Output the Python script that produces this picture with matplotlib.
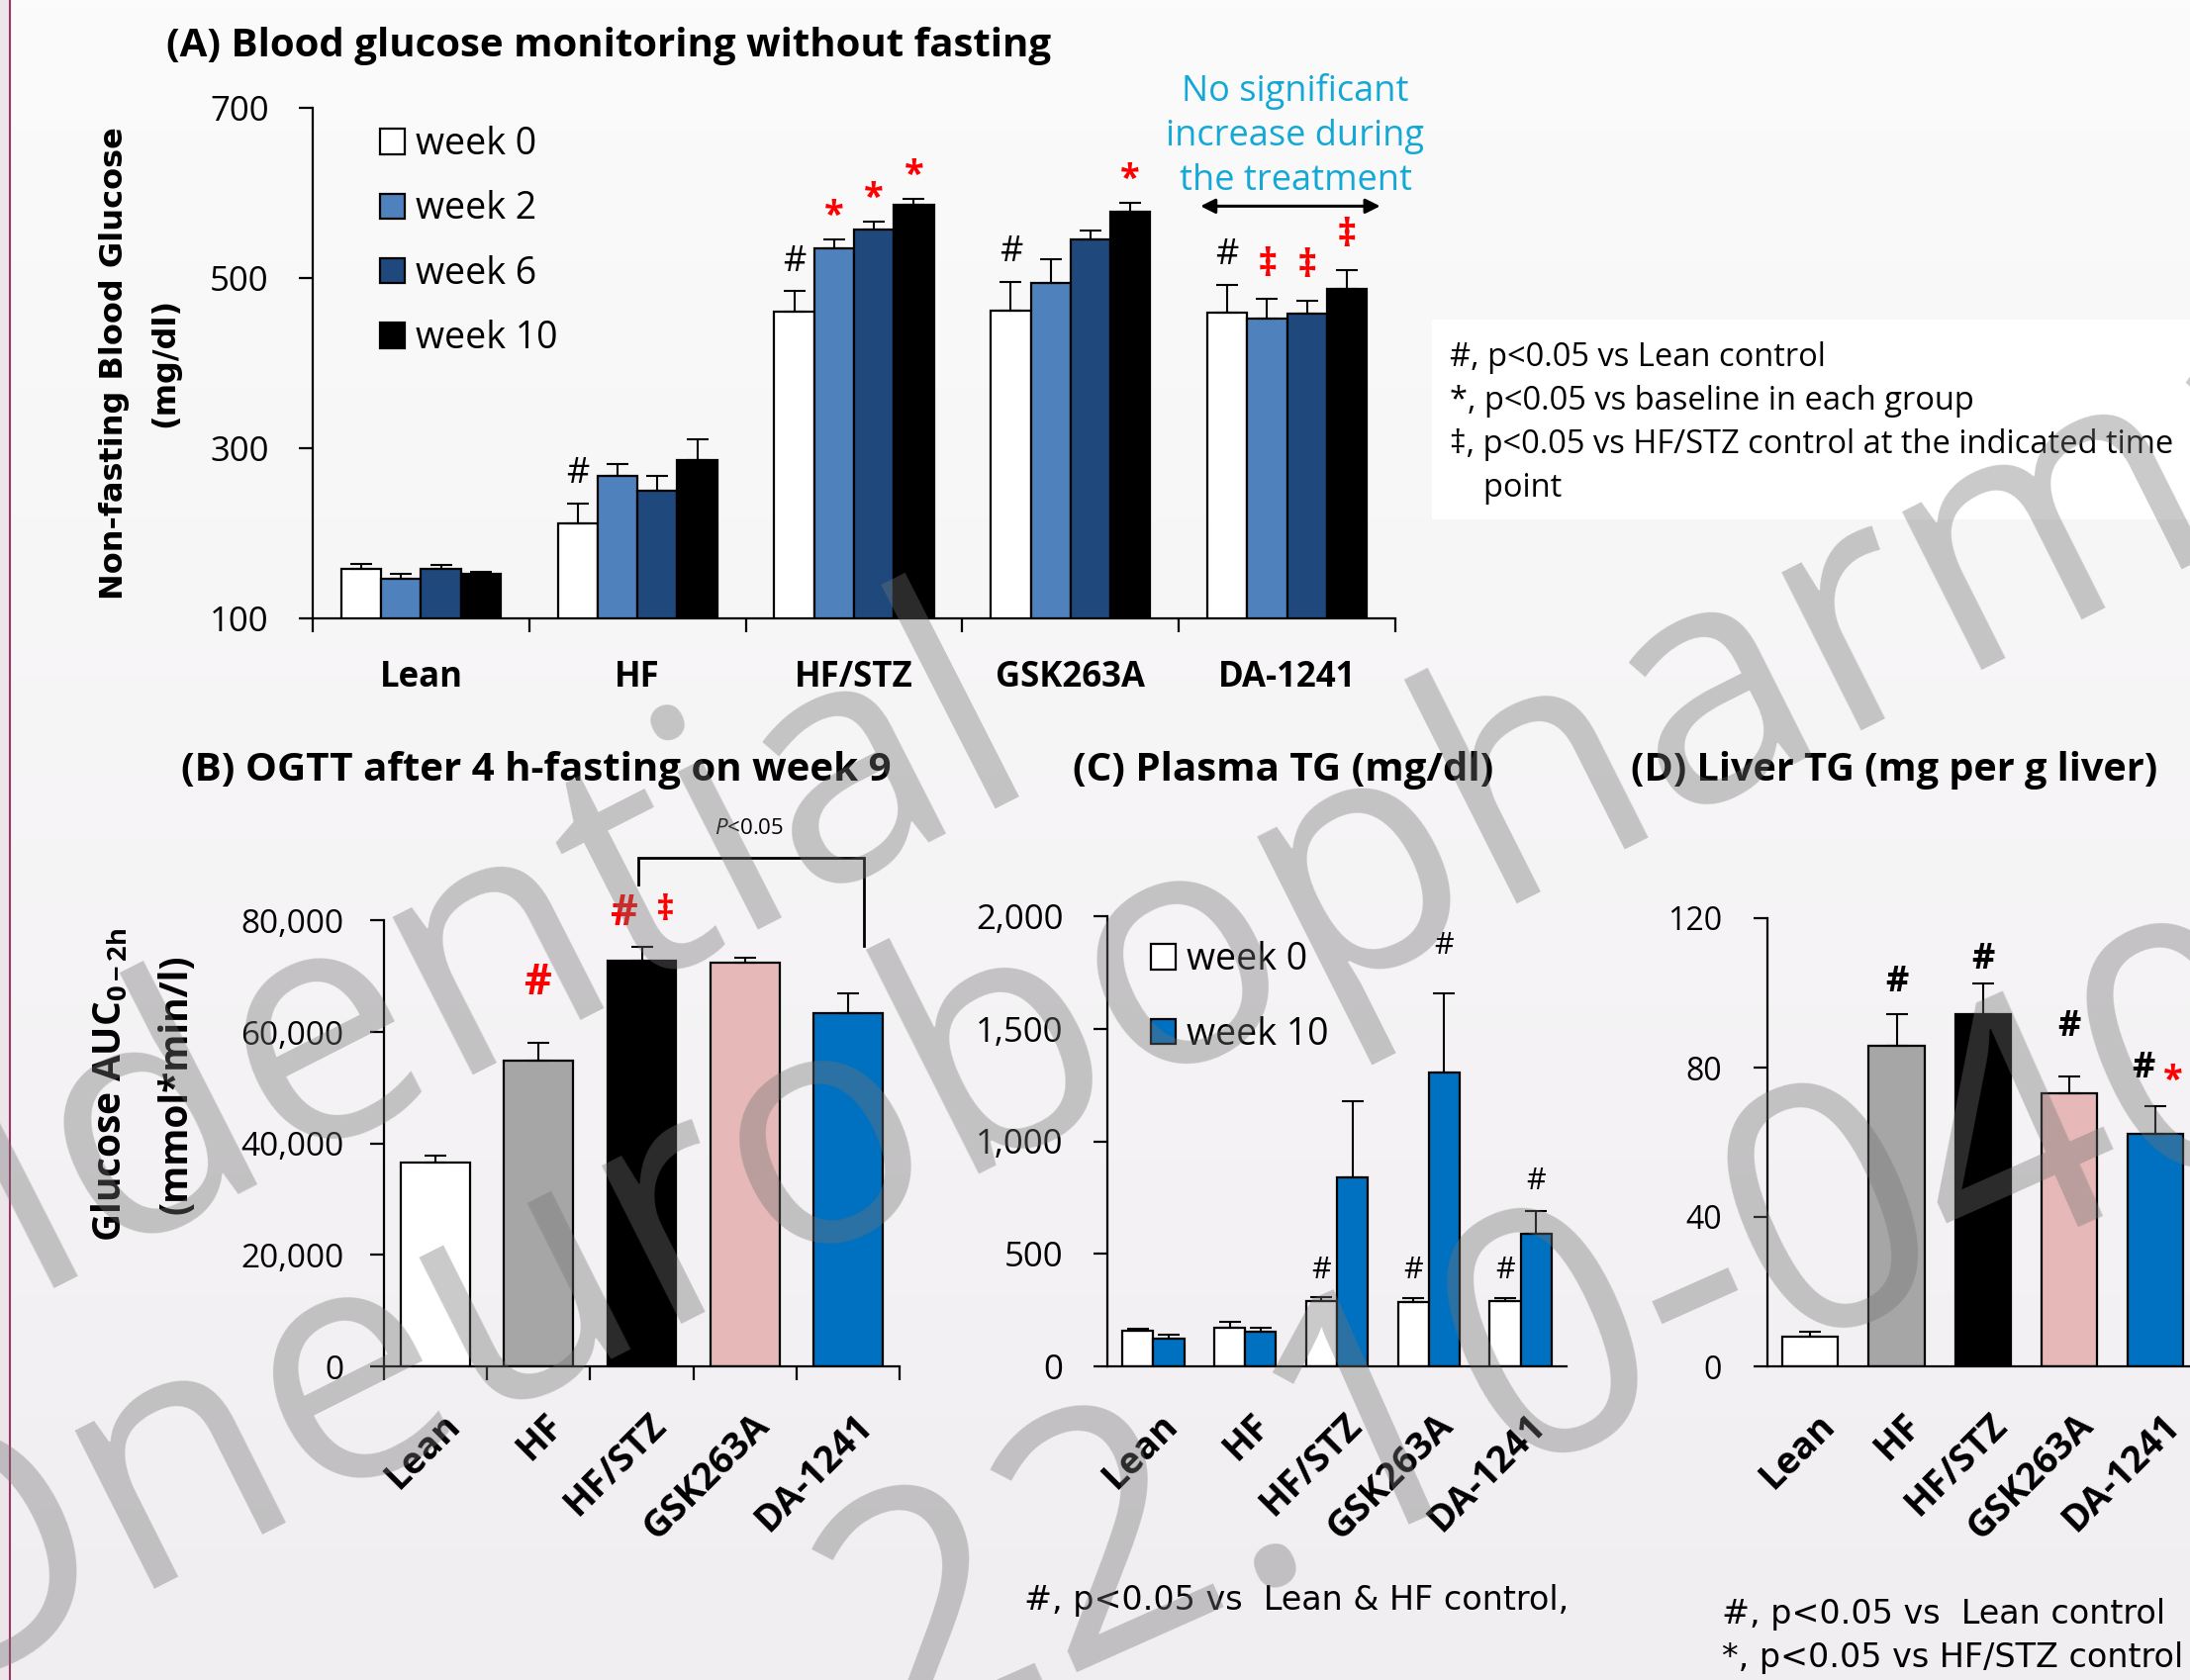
import matplotlib.pyplot as plt
import numpy as np
from matplotlib import font_manager
from matplotlib.patches import Rectangle
from matplotlib.ticker import FuncFormatter
from matplotlib.transforms import ScaledTranslation


def pick_font(*names):
    have = {f.name for f in font_manager.fontManager.ttflist}
    for n in names:
        if n in have:
            return n
    return "DejaVu Sans"


SANS = pick_font("Open Sans", "Noto Sans", "DejaVu Sans")
WIDE = "DejaVu Sans"
plt.rcParams["font.family"] = [SANS, "DejaVu Sans"]
plt.rcParams["mathtext.fontset"] = "custom"
plt.rcParams["mathtext.rm"] = SANS
plt.rcParams["mathtext.it"] = SANS + ":italic"
plt.rcParams["mathtext.bf"] = SANS + ":bold"

groups = ["Lean", "HF", "HF/STZ", "GSK263A", "DA-1241"]

# (A) non-fasting blood glucose (mg/dl), mean and SEM per week
weeks_a = ["week 0", "week 2", "week 6", "week 10"]
glu_w0 = [158, 212, 460, 461, 459]
glu_w0_sem = [6, 23, 24, 34, 33]
glu_w2 = [146, 267, 535, 494, 452]
glu_w2_sem = [6, 14, 10, 28, 23]
glu_w6 = [158, 250, 556, 545, 458]
glu_w6_sem = [5, 17, 10, 10, 15]
glu_w10 = [152, 286, 586, 577, 487]
glu_w10_sem = [3, 24, 7, 11, 22]

# (B) OGTT glucose AUC 0-2h
auc_mean = [36500, 54800, 72800, 72400, 63400]
auc_sem = [1300, 3300, 2400, 900, 3600]

# (C) plasma TG (mg/dl)
weeks_c = ["week 0", "week 10"]
ptg_w0 = [159, 173, 290, 285, 290]
ptg_w0_sem = [8, 25, 17, 20, 15]
ptg_w10 = [123, 154, 839, 1306, 587]
ptg_w10_sem = [19, 16, 341, 350, 101]

# (D) liver TG (mg per g liver)
ltg_mean = [8.0, 85.8, 94.2, 73.1, 62.3]
ltg_sem = [1.4, 8.6, 8.3, 4.4, 7.3]

W, H = 2213, 1698
fig = plt.figure(figsize=(W / 100, H / 100), dpi=100)


def fx(px):
    return px / W


def fy(py):
    return 1 - py / H


# page background
bg = fig.add_axes([0, 0, 1, 1], zorder=-10)
grad = np.linspace(0, 1, 256)[:, None, None]
top = np.array([251, 251, 251]) / 255
bot = np.array([241, 238, 241]) / 255
bg.imshow(top + (bot - top) * grad, aspect="auto", extent=[0, 1, 0, 1])
bg.add_patch(Rectangle((0, 0), fx(9), 1, color="#ECE5EA", lw=0))
bg.axvline(fx(10), color="#9B3567", lw=1.5)
bg.add_patch(Rectangle((fx(1447), fy(525)), 1 - fx(1447), fy(323) - fy(525),
                       color="white", lw=0))
bg.set_xlim(0, 1)
bg.set_ylim(0, 1)
bg.axis("off")

x = np.arange(len(groups))
EDGE = dict(edgecolor="black", linewidth=1.6, zorder=2)
ERR = dict(fmt="none", ecolor="black", elinewidth=1.5, capsize=8, capthick=1.5, zorder=3)
LEG = dict(loc="upper left", frameon=False, fontsize=27, handlelength=0.67,
           handleheight=0.67, handletextpad=0.3, borderpad=0, borderaxespad=0)


def base_style(ax, ylim, yticks, ypad, tick_fs):
    for sp in ("top", "right"):
        ax.spines[sp].set_visible(False)
    for sp in ("left", "bottom"):
        ax.spines[sp].set_linewidth(1.6)
    ax.set_facecolor("none")
    ax.set_xlim(-0.5, 4.5)
    ax.set_ylim(*ylim)
    ax.set_yticks(yticks)
    ax.tick_params(axis="y", direction="out", length=10, width=1.6,
                   pad=ypad, labelsize=tick_fs)
    ax.yaxis.set_major_formatter(FuncFormatter(lambda v, p: f"{v:,.0f}"))
    ax.set_xticks(x)


def rotated_labels(ax, boundary_ticks):
    ax.set_xticklabels(groups, rotation=45, ha="right", va="center",
                       rotation_mode="anchor", fontsize=27, fontweight="bold")
    ax.tick_params(axis="x", which="major", length=0, pad=39)
    if boundary_ticks:
        ax.set_xticks(np.arange(-0.5, 5), minor=True)
        ax.tick_params(axis="x", which="minor", direction="out", length=10, width=1.6)
    shift = ScaledTranslation(14 / 72, 0, fig.dpi_scale_trans)
    for lab in ax.get_xticklabels():
        lab.set_transform(lab.get_transform() + shift)


def mark(ax, xpos, ytop, text, dy, color="black", size=26, weight="normal", dx=0):
    ax.annotate(text, xy=(xpos, ytop), xytext=(dx, dy), textcoords="offset points",
                ha="center", va="baseline", color=color, fontsize=size,
                fontweight=weight, annotation_clip=False)


# ---------------- (A) blood glucose ----------------
axA = fig.add_axes([fx(316), fy(625), fx(1410) - fx(316), fy(108.5) - fy(625)])
base_style(axA, (100, 700), [100, 300, 500, 700], ypad=22, tick_fs=25)
series_a = [(glu_w0, glu_w0_sem), (glu_w2, glu_w2_sem),
            (glu_w6, glu_w6_sem), (glu_w10, glu_w10_sem)]
colors_a = ["white", "#4F81BD", "#1F497D", "black"]
wa = 0.184
tops_a = []
for i, ((m, s), c, lab) in enumerate(zip(series_a, colors_a, weeks_a)):
    pos = x + (i - 1.5) * wa
    axA.bar(pos, m, wa, color=c, label=lab, **EDGE)
    axA.errorbar(pos, m, yerr=[np.zeros(5), s], **ERR)
    tops_a.append((pos, np.add(m, s)))
axA.set_xticklabels(groups, fontsize=25, fontweight="bold")
axA.tick_params(axis="x", which="major", length=0, pad=30)
axA.set_xticks(np.arange(-0.5, 5), minor=True)
axA.tick_params(axis="x", which="minor", direction="out", length=10, width=1.6)
axA.set_ylabel("Non-fasting Blood Glucose\n(mg/dl)", family=WIDE,
               fontsize=23, fontweight="bold", linespacing=1.86)
axA.yaxis.set_label_coords(-0.122, 0.5)
axA.legend(bbox_to_anchor=(0.062, 0.964), labelspacing=0.73, **LEG)

# significance marks
for g in (1, 2, 3, 4):
    mark(axA, tops_a[0][0][g], tops_a[0][1][g], "#", 15)
for s_i, g in ((1, 2), (2, 2), (3, 2), (3, 3)):
    mark(axA, tops_a[s_i][0][g], tops_a[s_i][1][g], "*", 10, "red", 26, "bold")
for s_i in (1, 2, 3):
    mark(axA, tops_a[s_i][0][4], tops_a[s_i][1][4], "‡", 17, "red", 28, "bold")

fig.text(fx(1309), fy(192), "No significant\nincrease during\nthe treatment",
         ha="center", va="baseline", color="#14A8D6", fontsize=26, linespacing=1.34,
         multialignment="center")
axA.annotate("", xy=(3.60, 584), xytext=(4.43, 584), annotation_clip=False,
             arrowprops=dict(arrowstyle="<|-|>", color="black", lw=2.2,
                             mutation_scale=22, shrinkA=0, shrinkB=0))
fig.text(fx(168), fy(57), "(A) Blood glucose monitoring without fasting",
         fontsize=29, fontweight="bold", va="baseline")

notes_a = ["#, p<0.05 vs Lean control", "*, p<0.05 vs baseline in each group",
           "‡, p<0.05 vs HF/STZ control at the indicated time", "    point"]
for k, line in enumerate(notes_a):
    fig.text(fx(1465), fy(369.6 + 44.3 * k), line, fontsize=23.5, va="baseline")

# ---------------- (B) OGTT AUC ----------------
axB = fig.add_axes([fx(388), fy(1381), fx(909) - fx(388), fy(930.4) - fy(1381)])
base_style(axB, (0, 80000), np.arange(0, 80001, 20000), ypad=19, tick_fs=24)
colors_grp = ["white", "#A6A6A6", "black", "#E6B9B8", "#0070C0"]
wb = 0.67
axB.bar(x, auc_mean, wb, color=colors_grp, **EDGE)
axB.errorbar(x, auc_mean, yerr=[np.zeros(5), auc_sem], **ERR)
rotated_labels(axB, True)
axB.set_ylabel("Glucose AUC$_{\\mathbf{0-2h}}$\n(mmol*min/l)", fontsize=28,
               fontweight="bold", linespacing=1.9)
axB.yaxis.set_label_coords(-0.365, 0.632)
top_b = np.add(auc_mean, auc_sem)
mark(axB, 1, top_b[1], "#", 35, "red", 31, "bold")
mark(axB, 2, top_b[2], "#", 16.5, "red", 31, "bold", dx=-13)
mark(axB, 2, top_b[2], "‡", 20, "red", 26, "bold", dx=17)
axB.plot([1.97, 1.97, 4.15, 4.15], [86500, 91200, 91200, 75400], color="black",
         lw=2.0, clip_on=False, solid_joinstyle="miter")
axB.text(3.04, 96500, "$\\mathit{P}$<0.05", ha="center", va="center", fontsize=16)
fig.text(fx(183), fy(789), "(B) OGTT after 4 h-fasting on week 9",
         fontsize=29, fontweight="bold", va="baseline")

# ---------------- (C) plasma TG ----------------
axC = fig.add_axes([fx(1119), fy(1381), fx(1583) - fx(1119), fy(926) - fy(1381)])
base_style(axC, (0, 2000), np.arange(0, 2001, 500), ypad=22, tick_fs=25)
wc = 0.336
c_pos0 = x - wc / 2
c_pos1 = x + wc / 2
axC.bar(c_pos0, ptg_w0, wc, color="white", label=weeks_c[0], **EDGE)
axC.bar(c_pos1, ptg_w10, wc, color="#0070C0", label=weeks_c[1], **EDGE)
axC.errorbar(c_pos0, ptg_w0, yerr=[np.zeros(5), ptg_w0_sem], **ERR)
axC.errorbar(c_pos1, ptg_w10, yerr=[np.zeros(5), ptg_w10_sem], **ERR)
rotated_labels(axC, False)
axC.legend(bbox_to_anchor=(0.095, 0.945), labelspacing=1.0, **LEG)
top_c0 = np.add(ptg_w0, ptg_w0_sem)
top_c1 = np.add(ptg_w10, ptg_w10_sem)
for g in (2, 3, 4):
    mark(axC, c_pos0[g], top_c0[g], "#", 14, size=22)
mark(axC, c_pos1[3], top_c1[3], "#", 29, size=22)
mark(axC, c_pos1[4], top_c1[4], "#", 16, size=22)
fig.text(fx(1084), fy(789), "(C) Plasma TG (mg/dl)", fontsize=29,
         fontweight="bold", va="baseline")
fig.text(fx(1035), fy(1626.7), "#, p<0.05 vs  Lean & HF control,", family=WIDE,
         fontsize=24, va="baseline")

# ---------------- (D) liver TG ----------------
axD = fig.add_axes([fx(1785.7), fy(1381), 436 / W, fy(928) - fy(1381)])
base_style(axD, (0, 120), [0, 40, 80, 120], ypad=23, tick_fs=23)
axD.bar(x, ltg_mean, 0.645, color=colors_grp, **EDGE)
axD.errorbar(x, ltg_mean, yerr=[np.zeros(5), ltg_sem], **ERR)
rotated_labels(axD, False)
top_d = np.add(ltg_mean, ltg_sem)
for g, dy in ((1, 16), (2, 11), (3, 30)):
    mark(axD, g, top_d[g], "#", dy, size=26, weight="bold")
mark(axD, 4, top_d[4], "#", 21, size=26, weight="bold", dx=-9)
mark(axD, 4, top_d[4], "*", 12, "red", 26, "bold", dx=13)
fig.text(fx(1648), fy(789), "(D) Liver TG (mg per g liver)", fontsize=28.5,
         fontweight="bold", va="baseline")
fig.text(fx(1740), fy(1641), "#, p<0.05 vs  Lean control", family=WIDE,
         fontsize=24, va="baseline")
fig.text(fx(1740), fy(1685), "*, p<0.05 vs HF/STZ control", family=WIDE,
         fontsize=24, va="baseline")

# watermark
WM = dict(color=(0.45, 0.45, 0.45, 0.38), rotation_mode="anchor",
          va="baseline", zorder=100)
fig.text(fx(1054), fy(783), "Confidential", ha="right", fontsize=240,
         rotation=27, **WM)
fig.text(fx(-102), fy(1726), "Oneurobopharma", ha="left", fontsize=240,
         rotation=26.7, **WM)
fig.text(fx(891), fy(1770), "22.10-040", ha="left", fontsize=250,
         rotation=24, **WM)

fig.savefig("out.png", dpi=100)
